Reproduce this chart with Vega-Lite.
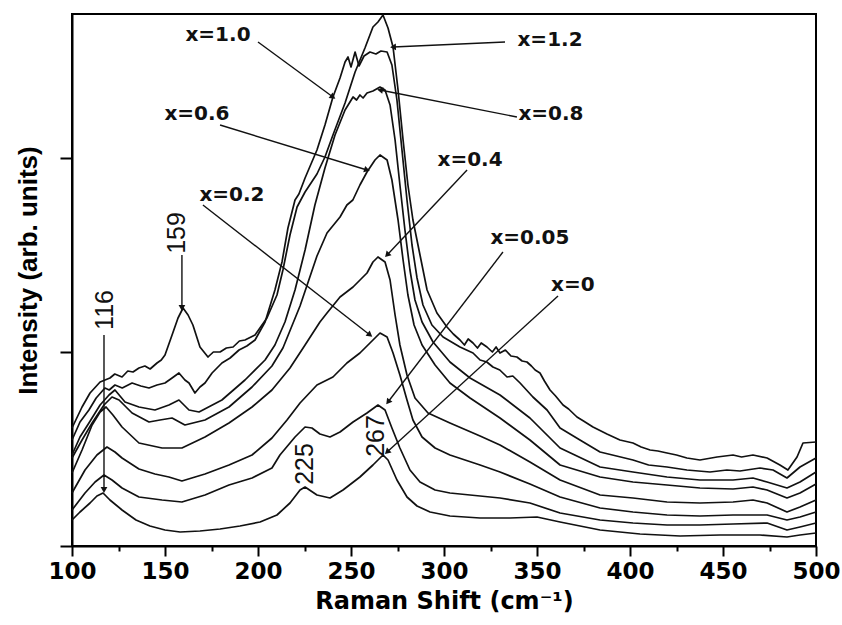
{
  "$schema": "https://vega.github.io/schema/vega-lite/v6.json",
  "width": 744,
  "height": 532,
  "autosize": "none",
  "padding": {"left": 72, "top": 14, "right": 26, "bottom": 79},
  "background": "white",
  "config": {
    "view": {"stroke": "black", "strokeWidth": 2},
    "axis": {
      "grid": false,
      "domainColor": "black",
      "domainWidth": 2,
      "tickColor": "black",
      "tickWidth": 2,
      "labelColor": "black",
      "titleColor": "black"
    }
  },
  "datasets": {
    "spectra": [
      {"s":"x=0","cm":100,"I":26},{"s":"x=0","cm":104.3,"I":34},{"s":"x=0","cm":109.7,"I":43},{"s":"x=0","cm":113.4,"I":50},{"s":"x=0","cm":116.7,"I":53},{"s":"x=0","cm":120.4,"I":46},{"s":"x=0","cm":126.9,"I":36},{"s":"x=0","cm":134.4,"I":26},{"s":"x=0","cm":141.9,"I":20},{"s":"x=0","cm":150,"I":16},{"s":"x=0","cm":158.1,"I":14},{"s":"x=0","cm":168.8,"I":15},{"s":"x=0","cm":179.6,"I":17},{"s":"x=0","cm":190.3,"I":20},{"s":"x=0","cm":201.1,"I":24},{"s":"x=0","cm":210.2,"I":31},{"s":"x=0","cm":217.2,"I":43},{"s":"x=0","cm":222.6,"I":56},{"s":"x=0","cm":225.3,"I":59},{"s":"x=0","cm":231.7,"I":51},{"s":"x=0","cm":238.7,"I":48},{"s":"x=0","cm":245.7,"I":56},{"s":"x=0","cm":254.8,"I":69},{"s":"x=0","cm":261.8,"I":81},{"s":"x=0","cm":267.2,"I":91},{"s":"x=0","cm":269.9,"I":86},{"s":"x=0","cm":274.7,"I":66},{"s":"x=0","cm":280.1,"I":49},{"s":"x=0","cm":285.5,"I":40},{"s":"x=0","cm":292.5,"I":34},{"s":"x=0","cm":303.2,"I":30},{"s":"x=0","cm":319.4,"I":28},{"s":"x=0","cm":335.5,"I":28},{"s":"x=0","cm":350,"I":29},{"s":"x=0","cm":362.4,"I":24},{"s":"x=0","cm":383.9,"I":16},{"s":"x=0","cm":405.4,"I":12},{"s":"x=0","cm":426.9,"I":10},{"s":"x=0","cm":448.4,"I":11},{"s":"x=0","cm":469.9,"I":11},{"s":"x=0","cm":484.4,"I":9},{"s":"x=0","cm":491.4,"I":11},{"s":"x=0","cm":500,"I":13},

      {"s":"x=0.05","cm":100,"I":36},{"s":"x=0.05","cm":107,"I":53},{"s":"x=0.05","cm":112.4,"I":64},{"s":"x=0.05","cm":117.2,"I":71},{"s":"x=0.05","cm":121.5,"I":66},{"s":"x=0.05","cm":126.9,"I":58},{"s":"x=0.05","cm":136,"I":49},{"s":"x=0.05","cm":148.4,"I":46},{"s":"x=0.05","cm":159.1,"I":44},{"s":"x=0.05","cm":171.5,"I":51},{"s":"x=0.05","cm":184.4,"I":61},{"s":"x=0.05","cm":196.8,"I":68},{"s":"x=0.05","cm":207.5,"I":78},{"s":"x=0.05","cm":211.8,"I":91},{"s":"x=0.05","cm":219.9,"I":109},{"s":"x=0.05","cm":225.3,"I":119},{"s":"x=0.05","cm":229,"I":118},{"s":"x=0.05","cm":233.3,"I":112},{"s":"x=0.05","cm":238.7,"I":109},{"s":"x=0.05","cm":244.1,"I":114},{"s":"x=0.05","cm":251.1,"I":124},{"s":"x=0.05","cm":258.6,"I":133},{"s":"x=0.05","cm":264.5,"I":141},{"s":"x=0.05","cm":268.3,"I":136},{"s":"x=0.05","cm":272,"I":118},{"s":"x=0.05","cm":276.3,"I":98},{"s":"x=0.05","cm":281.7,"I":76},{"s":"x=0.05","cm":287.1,"I":64},{"s":"x=0.05","cm":295.2,"I":56},{"s":"x=0.05","cm":303.2,"I":53},{"s":"x=0.05","cm":319.4,"I":50},{"s":"x=0.05","cm":330.1,"I":48},{"s":"x=0.05","cm":346.2,"I":43},{"s":"x=0.05","cm":362.4,"I":33},{"s":"x=0.05","cm":383.9,"I":26},{"s":"x=0.05","cm":401.6,"I":23},{"s":"x=0.05","cm":419.9,"I":21},{"s":"x=0.05","cm":437.6,"I":21},{"s":"x=0.05","cm":455.4,"I":22},{"s":"x=0.05","cm":473.7,"I":23},{"s":"x=0.05","cm":484.4,"I":16},{"s":"x=0.05","cm":491.4,"I":19},{"s":"x=0.05","cm":500,"I":23},

      {"s":"x=0.2","cm":100,"I":53},{"s":"x=0.2","cm":107,"I":76},{"s":"x=0.2","cm":113.4,"I":91},{"s":"x=0.2","cm":118.8,"I":99},{"s":"x=0.2","cm":123.1,"I":94},{"s":"x=0.2","cm":126.9,"I":88},{"s":"x=0.2","cm":136,"I":77},{"s":"x=0.2","cm":144.6,"I":72},{"s":"x=0.2","cm":152.1,"I":69},{"s":"x=0.2","cm":159.1,"I":65},{"s":"x=0.2","cm":171.5,"I":72},{"s":"x=0.2","cm":184.4,"I":81},{"s":"x=0.2","cm":196.8,"I":91},{"s":"x=0.2","cm":207.5,"I":108},{"s":"x=0.2","cm":215.6,"I":126},{"s":"x=0.2","cm":222.6,"I":143},{"s":"x=0.2","cm":231.7,"I":161},{"s":"x=0.2","cm":240.3,"I":169},{"s":"x=0.2","cm":247.8,"I":183},{"s":"x=0.2","cm":254.8,"I":193},{"s":"x=0.2","cm":260.2,"I":203},{"s":"x=0.2","cm":265.6,"I":213},{"s":"x=0.2","cm":269.4,"I":209},{"s":"x=0.2","cm":272.6,"I":193},{"s":"x=0.2","cm":276.3,"I":171},{"s":"x=0.2","cm":280.1,"I":146},{"s":"x=0.2","cm":283.3,"I":126},{"s":"x=0.2","cm":288.2,"I":109},{"s":"x=0.2","cm":295.2,"I":98},{"s":"x=0.2","cm":303.2,"I":91},{"s":"x=0.2","cm":319.4,"I":81},{"s":"x=0.2","cm":330.1,"I":74},{"s":"x=0.2","cm":346.2,"I":62},{"s":"x=0.2","cm":362.4,"I":49},{"s":"x=0.2","cm":383.9,"I":38},{"s":"x=0.2","cm":401.6,"I":34},{"s":"x=0.2","cm":419.9,"I":31},{"s":"x=0.2","cm":437.6,"I":30},{"s":"x=0.2","cm":455.4,"I":31},{"s":"x=0.2","cm":473.7,"I":31},{"s":"x=0.2","cm":484.4,"I":26},{"s":"x=0.2","cm":491.4,"I":29},{"s":"x=0.2","cm":500,"I":34},

      {"s":"x=0.4","cm":100,"I":73},{"s":"x=0.4","cm":105.4,"I":96},{"s":"x=0.4","cm":110.8,"I":121},{"s":"x=0.4","cm":115.1,"I":134},{"s":"x=0.4","cm":118.3,"I":139},{"s":"x=0.4","cm":122,"I":131},{"s":"x=0.4","cm":126.9,"I":119},{"s":"x=0.4","cm":136,"I":103},{"s":"x=0.4","cm":148.4,"I":98},{"s":"x=0.4","cm":159.1,"I":98},{"s":"x=0.4","cm":171.5,"I":109},{"s":"x=0.4","cm":184.4,"I":123},{"s":"x=0.4","cm":196.8,"I":139},{"s":"x=0.4","cm":207.5,"I":156},{"s":"x=0.4","cm":217.2,"I":178},{"s":"x=0.4","cm":225.3,"I":201},{"s":"x=0.4","cm":233.3,"I":224},{"s":"x=0.4","cm":237.1,"I":233},{"s":"x=0.4","cm":244.1,"I":249},{"s":"x=0.4","cm":251.1,"I":259},{"s":"x=0.4","cm":258.6,"I":273},{"s":"x=0.4","cm":261.8,"I":284},{"s":"x=0.4","cm":264.5,"I":289},{"s":"x=0.4","cm":268.3,"I":284},{"s":"x=0.4","cm":271,"I":266},{"s":"x=0.4","cm":273.7,"I":231},{"s":"x=0.4","cm":276.3,"I":201},{"s":"x=0.4","cm":280.1,"I":171},{"s":"x=0.4","cm":284.4,"I":148},{"s":"x=0.4","cm":291.4,"I":133},{"s":"x=0.4","cm":303.2,"I":123},{"s":"x=0.4","cm":319.4,"I":110},{"s":"x=0.4","cm":330.1,"I":101},{"s":"x=0.4","cm":346.2,"I":84},{"s":"x=0.4","cm":362.4,"I":66},{"s":"x=0.4","cm":383.9,"I":51},{"s":"x=0.4","cm":401.6,"I":48},{"s":"x=0.4","cm":419.9,"I":44},{"s":"x=0.4","cm":437.6,"I":43},{"s":"x=0.4","cm":455.4,"I":44},{"s":"x=0.4","cm":466.1,"I":46},{"s":"x=0.4","cm":473.7,"I":43},{"s":"x=0.4","cm":484.4,"I":34},{"s":"x=0.4","cm":491.4,"I":39},{"s":"x=0.4","cm":500,"I":46},

      {"s":"x=0.6","cm":100,"I":88},{"s":"x=0.6","cm":105.4,"I":106},{"s":"x=0.6","cm":110.8,"I":123},{"s":"x=0.6","cm":117.2,"I":141},{"s":"x=0.6","cm":121.5,"I":149},{"s":"x=0.6","cm":125.3,"I":146},{"s":"x=0.6","cm":132.3,"I":133},{"s":"x=0.6","cm":141.4,"I":124},{"s":"x=0.6","cm":147.3,"I":126},{"s":"x=0.6","cm":153.8,"I":128},{"s":"x=0.6","cm":160.7,"I":121},{"s":"x=0.6","cm":171.5,"I":126},{"s":"x=0.6","cm":184.4,"I":139},{"s":"x=0.6","cm":196.8,"I":159},{"s":"x=0.6","cm":207.5,"I":180},{"s":"x=0.6","cm":213.4,"I":198},{"s":"x=0.6","cm":222.6,"I":240},{"s":"x=0.6","cm":231.7,"I":290},{"s":"x=0.6","cm":237.1,"I":313},{"s":"x=0.6","cm":244.1,"I":329},{"s":"x=0.6","cm":247.8,"I":341},{"s":"x=0.6","cm":251,"I":346},{"s":"x=0.6","cm":254.8,"I":361},{"s":"x=0.6","cm":258.6,"I":374},{"s":"x=0.6","cm":262.9,"I":386},{"s":"x=0.6","cm":265.6,"I":391},{"s":"x=0.6","cm":269.4,"I":386},{"s":"x=0.6","cm":272,"I":366},{"s":"x=0.6","cm":275.3,"I":326},{"s":"x=0.6","cm":278,"I":286},{"s":"x=0.6","cm":280.6,"I":251},{"s":"x=0.6","cm":283.9,"I":221},{"s":"x=0.6","cm":288.2,"I":201},{"s":"x=0.6","cm":295.2,"I":181},{"s":"x=0.6","cm":303.2,"I":163},{"s":"x=0.6","cm":314,"I":148},{"s":"x=0.6","cm":330.1,"I":128},{"s":"x=0.6","cm":346.2,"I":106},{"s":"x=0.6","cm":362.4,"I":81},{"s":"x=0.6","cm":383.9,"I":69},{"s":"x=0.6","cm":401.6,"I":64},{"s":"x=0.6","cm":419.9,"I":61},{"s":"x=0.6","cm":437.6,"I":58},{"s":"x=0.6","cm":455.4,"I":57},{"s":"x=0.6","cm":466.1,"I":59},{"s":"x=0.6","cm":473.7,"I":56},{"s":"x=0.6","cm":484.4,"I":48},{"s":"x=0.6","cm":491.4,"I":53},{"s":"x=0.6","cm":500,"I":62},

      {"s":"x=0.8","cm":100,"I":91},{"s":"x=0.8","cm":104.3,"I":109},{"s":"x=0.8","cm":109.1,"I":123},{"s":"x=0.8","cm":115.1,"I":141},{"s":"x=0.8","cm":119.9,"I":151},{"s":"x=0.8","cm":123.1,"I":156},{"s":"x=0.8","cm":128.5,"I":144},{"s":"x=0.8","cm":136,"I":139},{"s":"x=0.8","cm":144.6,"I":136},{"s":"x=0.8","cm":152.1,"I":141},{"s":"x=0.8","cm":157.5,"I":146},{"s":"x=0.8","cm":162.9,"I":136},{"s":"x=0.8","cm":168.3,"I":134},{"s":"x=0.8","cm":180.6,"I":146},{"s":"x=0.8","cm":193,"I":166},{"s":"x=0.8","cm":203.8,"I":186},{"s":"x=0.8","cm":209.1,"I":201},{"s":"x=0.8","cm":214.5,"I":224},{"s":"x=0.8","cm":219.9,"I":256},{"s":"x=0.8","cm":225.3,"I":296},{"s":"x=0.8","cm":230.6,"I":341},{"s":"x=0.8","cm":236,"I":378},{"s":"x=0.8","cm":241.4,"I":411},{"s":"x=0.8","cm":246.8,"I":436},{"s":"x=0.8","cm":251.1,"I":449},{"s":"x=0.8","cm":253,"I":446},{"s":"x=0.8","cm":254.8,"I":451},{"s":"x=0.8","cm":256.5,"I":448},{"s":"x=0.8","cm":258.6,"I":453},{"s":"x=0.8","cm":261.8,"I":455},{"s":"x=0.8","cm":265.6,"I":459},{"s":"x=0.8","cm":268.3,"I":456},{"s":"x=0.8","cm":271,"I":441},{"s":"x=0.8","cm":273.7,"I":406},{"s":"x=0.8","cm":276.3,"I":361},{"s":"x=0.8","cm":279,"I":316},{"s":"x=0.8","cm":281.7,"I":276},{"s":"x=0.8","cm":284.4,"I":246},{"s":"x=0.8","cm":288.2,"I":224},{"s":"x=0.8","cm":294.1,"I":204},{"s":"x=0.8","cm":303.2,"I":184},{"s":"x=0.8","cm":314,"I":168},{"s":"x=0.8","cm":330.1,"I":151},{"s":"x=0.8","cm":346.2,"I":128},{"s":"x=0.8","cm":362.4,"I":98},{"s":"x=0.8","cm":383.9,"I":79},{"s":"x=0.8","cm":401.6,"I":74},{"s":"x=0.8","cm":419.9,"I":69},{"s":"x=0.8","cm":437.6,"I":66},{"s":"x=0.8","cm":455.4,"I":66},{"s":"x=0.8","cm":466.1,"I":68},{"s":"x=0.8","cm":473.7,"I":64},{"s":"x=0.8","cm":484.4,"I":58},{"s":"x=0.8","cm":491.4,"I":64},{"s":"x=0.8","cm":500,"I":74},

      {"s":"x=1.0","cm":100,"I":106},{"s":"x=1.0","cm":104.3,"I":124},{"s":"x=1.0","cm":109.1,"I":136},{"s":"x=1.0","cm":113,"I":148},{"s":"x=1.0","cm":117.7,"I":158},{"s":"x=1.0","cm":120,"I":156},{"s":"x=1.0","cm":123.1,"I":161},{"s":"x=1.0","cm":127,"I":158},{"s":"x=1.0","cm":132.3,"I":163},{"s":"x=1.0","cm":137,"I":160},{"s":"x=1.0","cm":141.4,"I":158},{"s":"x=1.0","cm":145.7,"I":161},{"s":"x=1.0","cm":150,"I":163},{"s":"x=1.0","cm":153.8,"I":168},{"s":"x=1.0","cm":157.5,"I":173},{"s":"x=1.0","cm":160.7,"I":166},{"s":"x=1.0","cm":162.9,"I":163},{"s":"x=1.0","cm":166.1,"I":153},{"s":"x=1.0","cm":168.8,"I":159},{"s":"x=1.0","cm":171.5,"I":163},{"s":"x=1.0","cm":175.3,"I":173},{"s":"x=1.0","cm":180.6,"I":183},{"s":"x=1.0","cm":185,"I":188},{"s":"x=1.0","cm":189.8,"I":196},{"s":"x=1.0","cm":194,"I":200},{"s":"x=1.0","cm":198.4,"I":206},{"s":"x=1.0","cm":203.8,"I":224},{"s":"x=1.0","cm":209.1,"I":256},{"s":"x=1.0","cm":212.9,"I":284},{"s":"x=1.0","cm":216.1,"I":318},{"s":"x=1.0","cm":219.9,"I":346},{"s":"x=1.0","cm":222,"I":352},{"s":"x=1.0","cm":225.3,"I":368},{"s":"x=1.0","cm":231.7,"I":396},{"s":"x=1.0","cm":236,"I":421},{"s":"x=1.0","cm":240.3,"I":449},{"s":"x=1.0","cm":244.1,"I":468},{"s":"x=1.0","cm":246.8,"I":484},{"s":"x=1.0","cm":248.4,"I":489},{"s":"x=1.0","cm":250,"I":479},{"s":"x=1.0","cm":252.2,"I":494},{"s":"x=1.0","cm":254.3,"I":480},{"s":"x=1.0","cm":257,"I":490},{"s":"x=1.0","cm":260.2,"I":494},{"s":"x=1.0","cm":263.4,"I":492},{"s":"x=1.0","cm":266.1,"I":495},{"s":"x=1.0","cm":269.4,"I":494},{"s":"x=1.0","cm":272,"I":481},{"s":"x=1.0","cm":274.7,"I":446},{"s":"x=1.0","cm":277.4,"I":396},{"s":"x=1.0","cm":280.1,"I":346},{"s":"x=1.0","cm":282.8,"I":301},{"s":"x=1.0","cm":285.5,"I":268},{"s":"x=1.0","cm":288.7,"I":241},{"s":"x=1.0","cm":293.5,"I":221},{"s":"x=1.0","cm":299.5,"I":209},{"s":"x=1.0","cm":308.6,"I":199},{"s":"x=1.0","cm":315.6,"I":193},{"s":"x=1.0","cm":319.4,"I":186},{"s":"x=1.0","cm":323,"I":184},{"s":"x=1.0","cm":326.3,"I":179},{"s":"x=1.0","cm":330,"I":176},{"s":"x=1.0","cm":333.9,"I":169},{"s":"x=1.0","cm":337,"I":170},{"s":"x=1.0","cm":340.9,"I":163},{"s":"x=1.0","cm":347.8,"I":149},{"s":"x=1.0","cm":355.4,"I":136},{"s":"x=1.0","cm":362.4,"I":118},{"s":"x=1.0","cm":373.1,"I":106},{"s":"x=1.0","cm":383.9,"I":94},{"s":"x=1.0","cm":401.6,"I":86},{"s":"x=1.0","cm":410,"I":81},{"s":"x=1.0","cm":419.9,"I":79},{"s":"x=1.0","cm":430.6,"I":76},{"s":"x=1.0","cm":443,"I":74},{"s":"x=1.0","cm":452.1,"I":76},{"s":"x=1.0","cm":459.1,"I":75},{"s":"x=1.0","cm":469.9,"I":78},{"s":"x=1.0","cm":476.9,"I":76},{"s":"x=1.0","cm":484.4,"I":68},{"s":"x=1.0","cm":491.4,"I":79},{"s":"x=1.0","cm":500,"I":88},

      {"s":"x=1.2","cm":100,"I":118},{"s":"x=1.2","cm":105.4,"I":139},{"s":"x=1.2","cm":109.7,"I":153},{"s":"x=1.2","cm":115.1,"I":164},{"s":"x=1.2","cm":120.4,"I":168},{"s":"x=1.2","cm":123,"I":172},{"s":"x=1.2","cm":126.9,"I":169},{"s":"x=1.2","cm":130,"I":175},{"s":"x=1.2","cm":132.8,"I":174},{"s":"x=1.2","cm":136,"I":178},{"s":"x=1.2","cm":139.2,"I":180},{"s":"x=1.2","cm":142,"I":177},{"s":"x=1.2","cm":145.7,"I":183},{"s":"x=1.2","cm":148,"I":186},{"s":"x=1.2","cm":150,"I":191},{"s":"x=1.2","cm":153.8,"I":211},{"s":"x=1.2","cm":157,"I":228},{"s":"x=1.2","cm":159.7,"I":238},{"s":"x=1.2","cm":162.4,"I":231},{"s":"x=1.2","cm":165,"I":221},{"s":"x=1.2","cm":168.8,"I":199},{"s":"x=1.2","cm":173.1,"I":189},{"s":"x=1.2","cm":176,"I":194},{"s":"x=1.2","cm":179.6,"I":194},{"s":"x=1.2","cm":183,"I":198},{"s":"x=1.2","cm":186.6,"I":199},{"s":"x=1.2","cm":190,"I":205},{"s":"x=1.2","cm":193,"I":206},{"s":"x=1.2","cm":198.4,"I":211},{"s":"x=1.2","cm":204.8,"I":228},{"s":"x=1.2","cm":210.2,"I":251},{"s":"x=1.2","cm":213.4,"I":276},{"s":"x=1.2","cm":217.2,"I":311},{"s":"x=1.2","cm":221,"I":339},{"s":"x=1.2","cm":225.3,"I":354},{"s":"x=1.2","cm":231.7,"I":372},{"s":"x=1.2","cm":236,"I":389},{"s":"x=1.2","cm":240.3,"I":411},{"s":"x=1.2","cm":246.8,"I":443},{"s":"x=1.2","cm":252.2,"I":474},{"s":"x=1.2","cm":257.5,"I":498},{"s":"x=1.2","cm":261.8,"I":519},{"s":"x=1.2","cm":264.5,"I":524},{"s":"x=1.2","cm":267.2,"I":531},{"s":"x=1.2","cm":269.9,"I":518},{"s":"x=1.2","cm":272.6,"I":499},{"s":"x=1.2","cm":275.3,"I":456},{"s":"x=1.2","cm":278,"I":406},{"s":"x=1.2","cm":280.6,"I":361},{"s":"x=1.2","cm":283.3,"I":326},{"s":"x=1.2","cm":287.1,"I":291},{"s":"x=1.2","cm":290.9,"I":256},{"s":"x=1.2","cm":296.2,"I":233},{"s":"x=1.2","cm":301.6,"I":219},{"s":"x=1.2","cm":305,"I":212},{"s":"x=1.2","cm":308.6,"I":206},{"s":"x=1.2","cm":311,"I":201},{"s":"x=1.2","cm":313,"I":207},{"s":"x=1.2","cm":315.6,"I":203},{"s":"x=1.2","cm":318,"I":198},{"s":"x=1.2","cm":320,"I":203},{"s":"x=1.2","cm":323.1,"I":199},{"s":"x=1.2","cm":326,"I":194},{"s":"x=1.2","cm":328,"I":199},{"s":"x=1.2","cm":330.1,"I":193},{"s":"x=1.2","cm":333,"I":196},{"s":"x=1.2","cm":336,"I":190},{"s":"x=1.2","cm":339.2,"I":189},{"s":"x=1.2","cm":342,"I":185},{"s":"x=1.2","cm":344.6,"I":184},{"s":"x=1.2","cm":347,"I":180},{"s":"x=1.2","cm":349,"I":176},{"s":"x=1.2","cm":351.6,"I":173},{"s":"x=1.2","cm":354,"I":165},{"s":"x=1.2","cm":357,"I":156},{"s":"x=1.2","cm":360,"I":150},{"s":"x=1.2","cm":364,"I":141},{"s":"x=1.2","cm":367,"I":137},{"s":"x=1.2","cm":371.5,"I":129},{"s":"x=1.2","cm":375,"I":125},{"s":"x=1.2","cm":380.1,"I":119},{"s":"x=1.2","cm":387.6,"I":112},{"s":"x=1.2","cm":394.6,"I":106},{"s":"x=1.2","cm":401.6,"I":103},{"s":"x=1.2","cm":406,"I":99},{"s":"x=1.2","cm":410.8,"I":96},{"s":"x=1.2","cm":415,"I":95},{"s":"x=1.2","cm":419.9,"I":93},{"s":"x=1.2","cm":425,"I":91},{"s":"x=1.2","cm":430.6,"I":88},{"s":"x=1.2","cm":437.6,"I":86},{"s":"x=1.2","cm":446.8,"I":89},{"s":"x=1.2","cm":455.4,"I":91},{"s":"x=1.2","cm":460,"I":89},{"s":"x=1.2","cm":466.1,"I":91},{"s":"x=1.2","cm":473.7,"I":88},{"s":"x=1.2","cm":480.6,"I":81},{"s":"x=1.2","cm":484.9,"I":76},{"s":"x=1.2","cm":489.8,"I":89},{"s":"x=1.2","cm":493,"I":103},{"s":"x=1.2","cm":500,"I":104}
    ],
    "labels": [
      {"t":"x=1.0","cm":178.5,"I":511},
      {"t":"x=1.2","cm":357,"I":506},
      {"t":"x=0.8","cm":357.5,"I":432},
      {"t":"x=0.6","cm":167.2,"I":432},
      {"t":"x=0.4","cm":314,"I":386},
      {"t":"x=0.2","cm":186,"I":351},
      {"t":"x=0.05","cm":346.2,"I":308},
      {"t":"x=0","cm":369.3,"I":261}
    ],
    "peaks": [
      {"t":"159","cm":156.4,"I":313},
      {"t":"116","cm":117.7,"I":236},
      {"t":"225","cm":225.3,"I":82},
      {"t":"267","cm":263.4,"I":110}
    ],
    "arrows": [
      {"cm":200.0,"I":504,"cm2":240.3,"I2":449},
      {"cm":332.8,"I":504,"cm2":272.6,"I2":499},
      {"cm":339.2,"I":429,"cm2":265.6,"I2":456},
      {"cm":179.6,"I":421,"cm2":258.6,"I2":376},
      {"cm":312.4,"I":376,"cm2":269.4,"I2":291},
      {"cm":170.4,"I":341,"cm2":260.2,"I2":211},
      {"cm":331.7,"I":294,"cm2":269.9,"I2":144},
      {"cm":361.3,"I":250,"cm2":269.4,"I2":94},
      {"cm":159.1,"I":291,"cm2":159.1,"I2":238},
      {"cm":117.2,"I":211,"cm2":117.2,"I2":56}
    ]
  },
  "encoding": {
    "x": {
      "field": "cm",
      "type": "quantitative",
      "scale": {"domain": [100, 500], "nice": false, "zero": false},
      "axis": {
        "title": "Raman Shift (cm⁻¹)",
        "values": [100,125,150,175,200,225,250,275,300,325,350,375,400,425,450,475,500],
        "labelExpr": "datum.value % 50 === 0 ? datum.label : ''",
        "tickSize": {"condition": {"test": "datum.value % 50 !== 0", "value": 5}, "value": 10},
        "labelFont": "DejaVu Sans",
        "labelFontWeight": "bold",
        "labelFontSize": 23,
        "labelPadding": 4,
        "labelFlush": false,
        "titleFont": "DejaVu Sans",
        "titleFontWeight": "bold",
        "titleFontSize": 24,
        "titlePadding": 6
      }
    },
    "y": {
      "field": "I",
      "type": "quantitative",
      "scale": {"domain": [0, 532], "nice": false, "zero": false},
      "axis": {
        "title": "Intensity (arb. units)",
        "values": [0, 194, 388],
        "labels": false,
        "tickSize": 12,
        "titleFont": "Liberation Sans",
        "titleFontWeight": "bold",
        "titleFontSize": 26,
        "titlePadding": 18,
        "titleY": 256
      }
    }
  },
  "layer": [
    {
      "data": {"name": "spectra"},
      "mark": {"type": "line", "color": "#111", "strokeWidth": 1.7, "strokeJoin": "round"},
      "encoding": {"detail": {"field": "s"}}
    },
    {
      "data": {"name": "arrows"},
      "mark": {"type": "rule", "color": "#111", "strokeWidth": 1.4},
      "encoding": {
        "x2": {"field": "cm2"},
        "y2": {"field": "I2"}
      }
    },
    {
      "data": {"name": "arrows"},
      "transform": [
        {"calculate": "atan2((datum.cm2 - datum.cm) * 1.86, (datum.I2 - datum.I)) * 180 / PI", "as": "ang"}
      ],
      "mark": {"type": "point", "shape": "triangle-up", "filled": true, "color": "#111", "size": 45, "opacity": 1},
      "encoding": {
        "x": {"field": "cm2", "type": "quantitative"},
        "y": {"field": "I2", "type": "quantitative"},
        "angle": {"field": "ang", "type": "quantitative", "scale": null}
      }
    },
    {
      "data": {"name": "labels"},
      "mark": {"type": "text", "font": "DejaVu Sans", "fontWeight": "bold", "fontSize": 20, "color": "#111", "align": "center", "baseline": "middle"},
      "encoding": {"text": {"field": "t"}}
    },
    {
      "data": {"name": "peaks"},
      "mark": {"type": "text", "font": "Liberation Sans", "fontSize": 25, "color": "#111", "align": "center", "baseline": "middle", "angle": 270},
      "encoding": {"text": {"field": "t"}}
    }
  ]
}
